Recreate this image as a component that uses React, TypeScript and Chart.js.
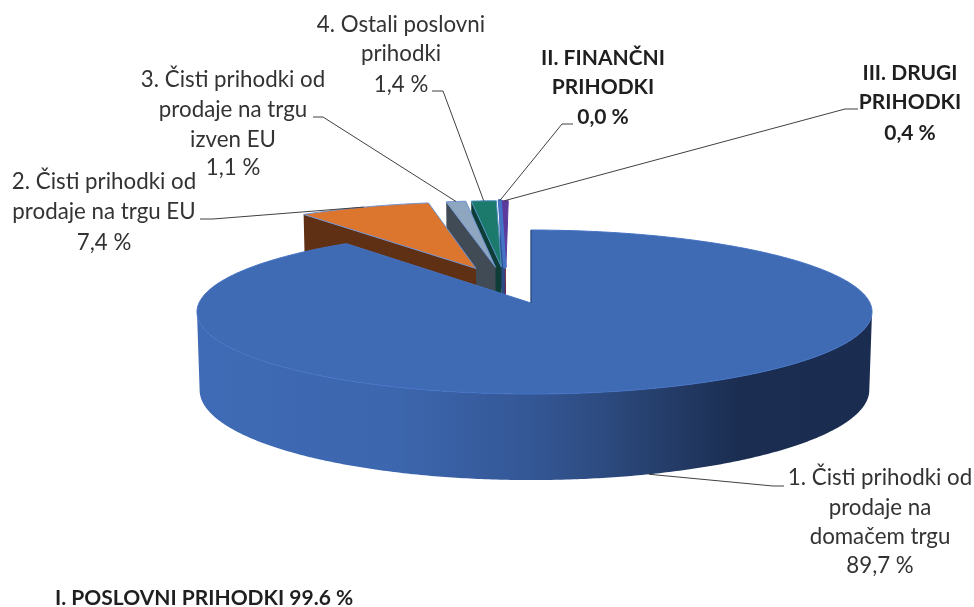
import React, { useEffect, useRef } from "react";
import { Chart, registerables } from "chart.js";

Chart.register(...registerables);

const categories = [
  "1. Čisti prihodki od prodaje na domačem trgu",
  "2. Čisti prihodki od prodaje na trgu EU",
  "3. Čisti prihodki od prodaje na trgu izven EU",
  "4. Ostali poslovni prihodki",
  "II. FINANČNI PRIHODKI",
  "III. DRUGI PRIHODKI",
];
const shares = [89.7, 7.4, 1.1, 1.4, 0.04, 0.4];
const topColors = ["#3f6ab4", "#dc752d", "#8fa6c0", "#1c7a6c", "#4472c4", "#5b3a9c"];
const wallColors = ["#1a2c50", "#5f3014", "#414b56", "#0e3d38", "#2a4a86", "#6b1d3f"];
const edgeColors = ["#4472c4", "#6f93d3", "#6f93d3", "#4f8fc0", "#4472c4", "#5b3a9c"];
const edgeWidths = [1, 1, 1, 1, 3.5, 1];
const labelLines = [
  ["1. Čisti prihodki od", "prodaje na", "domačem trgu", "89,7 %"],
  ["2. Čisti prihodki od", "prodaje na trgu EU", "7,4 %"],
  ["3. Čisti prihodki od", "prodaje na trgu", "izven EU", "1,1 %"],
  ["4. Ostali poslovni", "prihodki", "1,4 %"],
  ["II. FINANČNI", "PRIHODKI", "0,0 %"],
  ["III. DRUGI", "PRIHODKI", "0,4 %"],
];
const labelCentersX = [880, 104, 233, 401, 603, 910];
const labelLineYs = [
  [478, 508, 537, 566],
  [182, 212, 243],
  [80, 110, 140, 168],
  [25, 54, 85],
  [58, 87, 117],
  [73, 102, 133],
];
const labelBold = [false, false, false, false, true, true];
const leaderElbows = [
  [[784, 486], [773, 486]],
  [[200, 219], [213, 219]],
  [[313, 117], [323, 117]],
  [[432, 91], [443, 91]],
  [[573, 124], [562, 124]],
  [[858, 109], [845, 109]],
];
const footerText = "I. POSLOVNI PRIHODKI 99.6 %";

const TIP_X = 531;
const TIP_Y = 303;
const RX = 332;
const RIGHT_STRETCH = 7;
const RY = 81;
const PERSPECTIVE = 0.11;
const DEPTH = 78;
const DEPTH_SHRINK = 0.008;
const EXPLODE = 48;
const FONT = "Lato, Carlito, sans-serif";

function project(u: number, v: number, z: number) {
  const w = 1 - PERSPECTIVE * v + DEPTH_SHRINK * z;
  const s = u > 0 ? RIGHT_STRETCH * u * u : 0;
  return { x: TIP_X + (RX * u + s) / w, y: TIP_Y + (RY * v + DEPTH * z) / w };
}

const pie3d = {
  id: "pie3d",
  beforeDatasetsDraw(chart: any) {
    const { ctx } = chart;
    const arcs = chart.getDatasetMeta(0).data;
    const first = arcs[0];
    const e = first.options.offset / first.outerRadius;
    const mid0 = (first.startAngle + first.endAngle) / 2;
    const cu = -e * Math.cos(mid0);
    const cv = -e * Math.sin(mid0);

    const geom = arcs.map((arc: any) => {
      const mid = (arc.startAngle + arc.endAngle) / 2;
      const ou = cu + e * Math.cos(mid);
      const ov = cv + e * Math.sin(mid);
      const at = (a: number, z: number) =>
        project(ou + Math.cos(a), ov + Math.sin(a), z);
      const tip = (z: number) => project(ou, ov, z);
      const rim = (z: number) => {
        const span = arc.endAngle - arc.startAngle;
        const n = Math.max(2, Math.ceil(span / 0.01));
        const pts = [];
        for (let i = 0; i <= n; i++) pts.push(at(arc.startAngle + (span * i) / n, z));
        return pts;
      };
      return { arc, mid, at, tip, rim };
    });

    const poly = (pts: { x: number; y: number }[]) => {
      ctx.beginPath();
      pts.forEach((p, i) => (i ? ctx.lineTo(p.x, p.y) : ctx.moveTo(p.x, p.y)));
      ctx.closePath();
    };

    const blueWall = ctx.createLinearGradient(197, 0, 872, 0);
    [
      [0, "#3f6bb6"],
      [0.3, "#3c66ad"],
      [0.49, "#345796"],
      [0.6, "#2d4b80"],
      [0.72, "#223963"],
      [0.8, "#1b2e52"],
      [1, "#1a2c50"],
    ].forEach(([s, c]) => blueWall.addColorStop(s as number, c as string));

    ctx.save();
    ctx.lineJoin = "round";
    for (let i = geom.length - 1; i >= 0; i--) {
      const g = geom[i];
      const { arc } = g;
      if (arc.endAngle - arc.startAngle <= 0) continue;
      const wall = i === 0 ? blueWall : wallColors[i];

      const up = g.rim(0);
      const down = g.rim(1);
      // only the part of the outer wall that faces the viewer, as one loop
      const upFront: { x: number; y: number }[] = [];
      const downFront: { x: number; y: number }[] = [];
      for (let k = 0; k + 1 < up.length; k++) {
        const dx = up[k + 1].x - up[k].x;
        const dy = up[k + 1].y - up[k].y;
        const zx = down[k].x - up[k].x;
        const zy = down[k].y - up[k].y;
        if (dx * zy - dy * zx < 0) {
          upFront.push(up[k], up[k + 1]);
          downFront.push(down[k], down[k + 1]);
        }
      }
      if (upFront.length) {
        ctx.fillStyle = wall;
        poly([...upFront, ...downFront.reverse()]);
        ctx.fill();
      }

      if (i > 0) {
        ctx.fillStyle = wallColors[i];
        poly([g.tip(0), g.at(arc.startAngle, 0), g.at(arc.startAngle, 1), g.tip(1)]);
        ctx.fill();
      }

      poly([g.tip(0), ...up]);
      ctx.fillStyle = arc.options.backgroundColor;
      ctx.fill();
      ctx.strokeStyle = arc.options.borderColor;
      ctx.lineWidth = arc.options.borderWidth;
      ctx.stroke();

      if (i === 0) {
        ctx.strokeStyle = "rgba(26,44,80,0.75)";
        ctx.lineWidth = 1;
        const a = g.at(arc.startAngle, 0);
        const b = g.tip(0);
        ctx.beginPath();
        ctx.moveTo(a.x, a.y);
        ctx.lineTo(b.x, b.y);
        ctx.stroke();
      }
    }

    // leaders
    ctx.strokeStyle = "#404040";
    ctx.lineWidth = 1;
    geom.forEach((g: any, i: number) => {
      const end = g.at(g.mid, i === 0 ? 1 : 0);
      const [p0, p1] = leaderElbows[i];
      ctx.beginPath();
      ctx.moveTo(p0[0], p0[1]);
      ctx.lineTo(p1[0], p1[1]);
      ctx.lineTo(end.x, end.y);
      ctx.stroke();
    });

    // labels
    ctx.textAlign = "center";
    ctx.textBaseline = "middle";
    labelLines.forEach((lines, i) => {
      ctx.font = `${labelBold[i] ? "bold " : ""}${labelBold[i] ? 21 : 22.3}px ${FONT}`;
      ctx.fillStyle = labelBold[i] ? "#1f1f1f" : "#333333";
      lines.forEach((t, j) => ctx.fillText(t, labelCentersX[i], labelLineYs[i][j]));
    });
    ctx.textAlign = "left";
    ctx.font = `bold 21px ${FONT}`;
    ctx.fillStyle = "#1f1f1f";
    ctx.fillText(footerText, 55, 598);
    ctx.restore();
    return false;
  },
};

export default function App() {
  const ref = useRef<HTMLCanvasElement>(null);
  useEffect(() => {
    const chart = new Chart(ref.current as HTMLCanvasElement, {
      type: "pie",
      data: {
        labels: categories,
        datasets: [
          {
            data: shares,
            backgroundColor: topColors,
            borderColor: edgeColors,
            borderWidth: edgeWidths,
            offset: EXPLODE,
            radius: 200,
          },
        ],
      },
      options: {
        responsive: false,
        animation: false,
        plugins: { legend: { display: false }, tooltip: { enabled: false } },
      },
      plugins: [pie3d],
    } as any);
    return () => chart.destroy();
  }, []);
  return (
    <canvas
      ref={ref}
      width={974}
      height={607}
      style={{ position: "absolute", left: 0, top: 0, display: "block" }}
    />
  );
}
